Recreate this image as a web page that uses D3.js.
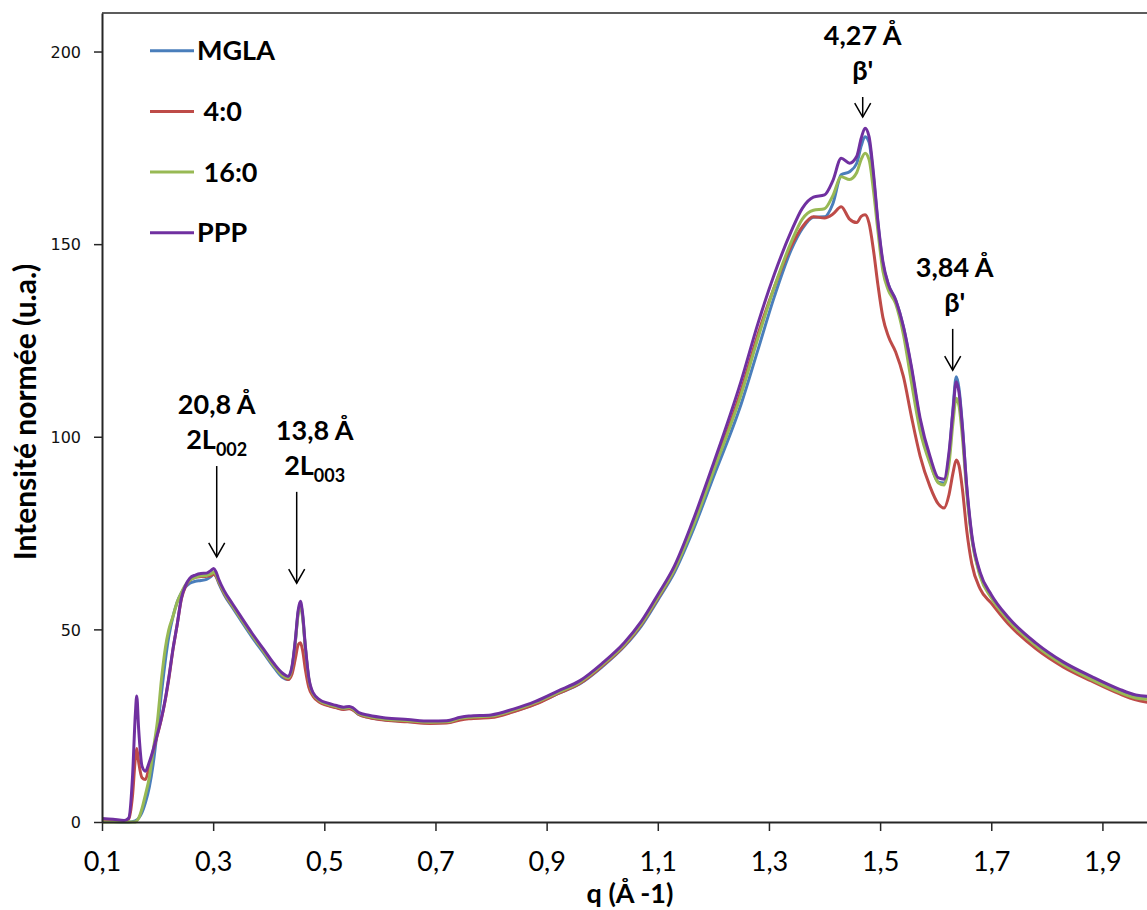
<!DOCTYPE html>
<html><head><meta charset="utf-8">
<script src="https://cdn.jsdelivr.net/npm/d3@7"></script>
<style>
html,body{margin:0;padding:0;background:#fff;overflow:hidden}
svg text{font-family:Lato,'Open Sans','DejaVu Sans',sans-serif}
</style></head><body>
<svg id="chart" width="1147" height="910"></svg>
<script>
// ---- data ----
const qValues = [
 0.100,0.120,0.140,0.148,0.155,0.160,0.1625,0.166,0.172,0.178,
 0.185,0.192,0.200,0.207,0.214,0.220,0.228,0.235,0.243,0.250,
 0.258,0.268,0.278,0.288,0.296,0.301,0.305,0.310,0.320,0.335,
 0.350,0.370,0.390,0.410,0.425,0.435,0.442,0.448,0.453,0.457,
 0.461,0.466,0.472,0.480,0.492,0.505,0.520,0.535,0.545,0.552,
 0.562,0.580,0.610,0.650,0.690,0.720,0.745,0.760,0.800,0.840,
 0.880,0.920,0.960,1.000,1.040,1.070,1.100,1.130,1.160,1.200,
 1.250,1.280,1.310,1.340,1.360,1.380,1.400,1.415,1.430,1.445,
 1.458,1.466,1.473,1.480,1.488,1.496,1.505,1.515,1.528,1.542,
 1.556,1.572,1.590,1.605,1.615,1.624,1.631,1.637,1.642,1.648,
 1.656,1.665,1.680,1.700,1.730,1.780,1.830,1.880,1.930,1.960,1.985
];
const valuesMGLA = [
 0.2,0.1,0.0,0.0,0.1,0.3,0.5,1.0,2.5,5.0,
 9.0,15.0,24.5,33.5,42,48,53.5,57,59.5,61.0,
 62.0,62.5,62.7,63.0,63.7,64.3,63.8,62.0,59.0,55.6,
 52.3,48.0,44.0,40.0,37.5,37.0,40,47,54.5,56.5,
 53.5,45,37,33.0,31.3,30.4,29.8,29.3,29.5,29.1,
 27.9,27.2,26.5,26.1,25.7,25.8,26.7,27.0,27.3,28.7,
 30.7,33.3,35.9,40.3,45.6,50.8,57.6,64.8,74.5,89.5,
 108.5,122.5,136.5,148.5,154,157.0,157.1,160.5,168.0,168.8,
 171.0,175.5,177.9,176.5,167.5,155.5,145,139.5,135.5,128.5,
 118.0,104.0,93.5,88.2,88.0,95.0,107.0,115.6,112.5,103,
 86.5,74.0,64.3,58.6,52.8,46.1,41.1,37.4,34.1,32.6,32.2
];
const values4_0 = [
 0.6,0.5,0.3,0.8,7,16.5,19.1,15.5,11.5,11.0,
 14.5,18.3,22.8,26.8,31.8,37.0,45.0,51.0,58.0,61.0,
 62.8,63.5,63.7,63.8,64.0,64.3,63.8,62.3,59.3,56.0,
 52.8,48.5,44.5,40.5,38.0,37.0,38.5,42.5,46.0,46.5,
 44.5,39.5,35.0,32.6,31.0,30.3,29.7,29.2,29.4,29.0,
 27.9,27.1,26.4,26.0,25.6,25.7,26.5,26.8,27.1,28.6,
 30.6,33.3,36.0,40.5,45.8,51.2,58.0,65.5,75.8,91.5,
 112,126.5,139,149.5,154.5,157.1,156.8,157.8,159.7,156.5,
 155.6,157.2,157.6,155.5,148.5,139.5,131.0,126.0,122.0,115.6,
 105.5,95.0,87.0,82.5,81.5,85.0,90.5,94.0,92.5,86.5,
 75.5,67.0,60.5,56.8,51.5,45.0,40.2,36.6,33.3,31.7,31.0
];
const values16_0 = [
 0.0,0.0,0.0,0.0,0.0,0.0,0.3,1.0,3.5,7.0,
 11.5,18.5,26.5,37.0,45.2,49.8,53.5,57.0,59.6,61.5,
 62.8,63.5,63.9,64.0,64.4,64.8,64.2,62.5,59.5,56.1,
 52.8,48.5,44.5,40.5,38.0,37.4,40.2,47.0,54.0,56.0,
 53.0,45.0,37.2,33.2,31.4,30.6,30.0,29.5,29.7,29.3,
 28.1,27.4,26.7,26.3,25.9,26.0,26.9,27.2,27.5,29.0,
 31.0,33.6,36.3,40.8,46.1,51.4,58.3,65.6,75.5,91,
 111,125.5,139,150.5,156.5,158.8,159.2,162.6,167.5,166.8,
 168.6,172.0,173.6,172,164,153.5,143,138,134.5,126.5,
 114.5,101.5,93.0,88.0,87.5,93.0,103.5,110.0,108.0,100,
 85.5,73.5,63.8,58.2,52.5,45.8,40.8,37.0,33.7,32.2,31.8
];
const valuesPPP = [
 0.9,0.7,0.4,1.0,12,28,32.7,24,14.5,13.2,
 15.5,18.7,23,27,32,37.3,45.2,51,58.2,61.3,
 63.3,64.1,64.5,64.6,65.3,65.8,65.0,63.0,60.0,56.6,
 53.3,49.0,45.0,41.0,38.6,37.8,40.5,47.5,55.0,57.3,
 54.0,45.5,37.5,33.5,31.7,30.9,30.3,29.8,30.0,29.6,
 28.4,27.7,27.0,26.6,26.2,26.3,27.2,27.5,27.8,29.3,
 31.3,34.0,36.7,41.2,46.6,52.0,59.0,66.5,77,93,
 114.5,129.3,142.3,153.3,159.3,162.2,162.8,166.5,172.3,171.0,
 172.8,177.5,180.1,178.0,168.5,156.0,145.5,139.5,135.5,128.5,
 118.5,104.8,94.8,89.3,89.0,96.0,106.5,114.3,111.5,102.5,
 87.0,74.5,64.8,59.0,53.2,46.5,41.5,37.8,34.5,33.0,32.6
];
const seriesNames = ["MGLA", "4:0", "16:0", "PPP"];
const legendLabels = ["MGLA", " 4:0", " 16:0", "PPP"];
const xTickValues = [0.1,0.3,0.5,0.7,0.9,1.1,1.3,1.5,1.7,1.9];
const yTickValues = [0,50,100,150,200];
const annLine1 = ["20,8 Å", "13,8 Å", "4,27 Å", "3,84 Å"];
const annLine2Main = ["2L", "2L", "β'", "β'"];
const annLine2Sub = ["002", "003", "", ""];
const annQ = [0.3064, 0.4503, 1.4687, 1.6306];
const annTip = [68.8, 62.0, 183.0, 117.3];
const annTop = [92.4, 85.7, 188.2, 128.0];

// ---- styles ----
const colors = ["#4A7EBB", "#BE4B48", "#98B954", "#7030A0"];
const seriesValues = [valuesMGLA, values4_0, values16_0, valuesPPP];
const annDx = [0, 18, 0, 2];

const svg = d3.select("#chart");
const x = d3.scaleLinear().domain([0.1, 2.0]).range([102, 1158]);
const y = d3.scaleLinear().domain([0, 210]).range([822, 13]);

// plot frame (top border)
svg.append("line").attr("x1", x(0.1)).attr("x2", x(2.0)).attr("y1", y(210)).attr("y2", y(210))
  .attr("stroke", "#262626").attr("stroke-width", 1.5);

// series
const line = d3.line().x(d => x(d[0])).y(d => y(d[1])).curve(d3.curveMonotoneX);
seriesValues.forEach((vals, i) => {
  const pts = qValues.map((q, k) => [q, vals[k]]);
  svg.append("path").datum(pts).attr("d", line)
    .attr("fill", "none").attr("stroke", colors[i]).attr("stroke-width", 3)
    .attr("stroke-linejoin", "round");
});

// axes
const fmt = d => d3.format(".1f")(d).replace(".", ",");
const gx = svg.append("g").attr("transform", `translate(0,${y(0)})`)
  .call(d3.axisBottom(x).tickValues(xTickValues).tickFormat(fmt).tickSize(9).tickSizeOuter(0));
gx.select(".domain").attr("stroke", "#262626").attr("stroke-width", 2);
gx.selectAll(".tick line").attr("stroke", "#262626").attr("stroke-width", 1.5);
gx.selectAll(".tick text").attr("y", 49).attr("dy", 0)
  .style("font-size", "27px").style("font-family", "Lato, 'Open Sans', sans-serif").attr("fill", "#000");

const gy = svg.append("g").attr("transform", `translate(${x(0.1)},0)`)
  .call(d3.axisLeft(y).tickValues(yTickValues).tickSize(8).tickSizeOuter(0));
gy.select(".domain").attr("stroke", "#262626").attr("stroke-width", 2);
gy.selectAll(".tick line").attr("stroke", "#262626").attr("stroke-width", 1.5);
gy.selectAll(".tick text").attr("x", -21).attr("dy", "0.36em")
  .style("font-size", "16px").style("font-family", "'DejaVu Sans', sans-serif").attr("fill", "#111");

// axis titles
svg.append("text").attr("x", 630).attr("y", 903).attr("text-anchor", "middle")
  .style("font-size", "27px").style("font-weight", "bold").text("q (Å -1)");
svg.append("text").attr("transform", "translate(36,412) rotate(-90)").attr("text-anchor", "middle")
  .style("font-size", "30px").style("font-weight", "bold").text("Intensité normée (u.a.)");

// legend
seriesNames.forEach((name, i) => {
  const ly = 50.7 + i * 60.7;
  svg.append("line").attr("x1", 150).attr("x2", 194).attr("y1", ly).attr("y2", ly)
    .attr("stroke", colors[i]).attr("stroke-width", 3);
  svg.append("text").attr("x", 197).attr("y", ly + 9.5)
    .style("font-size", "27px").style("font-weight", "bold").style("white-space", "pre")
    .text(legendLabels[i]);
});

// annotations
annQ.forEach((q, i) => {
  const xa = x(q), yt = y(annTop[i]), yb = y(annTip[i]);
  svg.append("line").attr("x1", xa).attr("x2", xa).attr("y1", yt).attr("y2", yb)
    .attr("stroke", "#000").attr("stroke-width", 1.5);
  svg.append("path").attr("d", `M${xa - 8},${yb - 14}L${xa},${yb}L${xa + 8},${yb - 14}`)
    .attr("fill", "none").attr("stroke", "#000").attr("stroke-width", 1.5);
  svg.append("text").attr("x", xa + annDx[i]).attr("y", yt - 52).attr("text-anchor", "middle")
    .style("font-size", "27px").style("font-weight", "bold").text(annLine1[i]);
  const t2 = svg.append("text").attr("x", xa + annDx[i]).attr("y", yt - 17).attr("text-anchor", "middle")
    .style("font-size", "27px").style("font-weight", "bold");
  t2.append("tspan").text(annLine2Main[i]);
  if (annLine2Sub[i]) t2.append("tspan").attr("dy", 7).style("font-size", "18px").text(annLine2Sub[i]);
});
</script>
</body></html>
